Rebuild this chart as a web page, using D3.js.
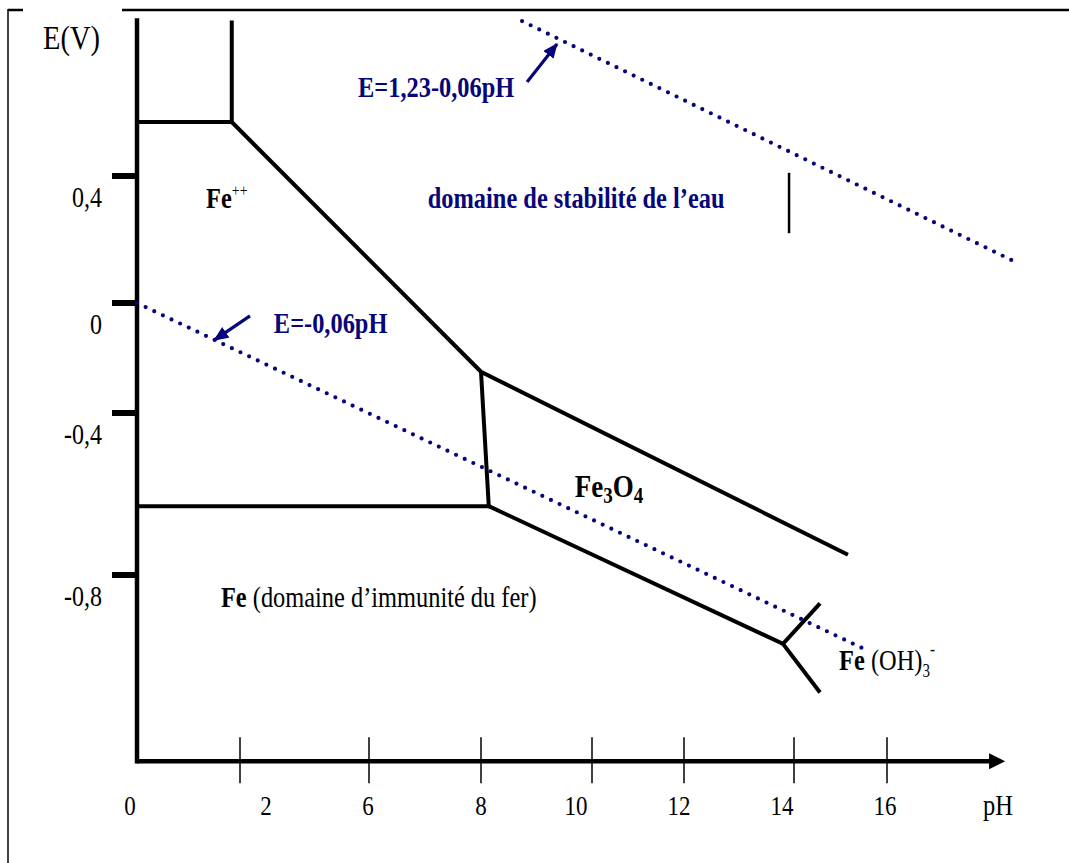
<!DOCTYPE html>
<html>
<head>
<meta charset="utf-8">
<script src="https://cdn.jsdelivr.net/npm/d3@7"></script>
<style>
  body { margin: 0; background: #fff; }
  text { font-family: "Liberation Serif", "Times New Roman", serif; }
</style>
</head>
<body>
<script>
// --- data (pH, E in volts) ---
const phTicks = [0, 2, 6, 8, 10, 12, 14, 16];
const phTickLabels = ["0", "2", "6", "8", "10", "12", "14", "16"];
const eTicks = [-0.8, -0.4, 0, 0.4];
const eTickLabels = ["-0,8", "-0,4", "0", "0,4"];

// boundaries of the Pourbaix diagram
const feIIcap = [[0, 0.57], [1.84, 0.57], [1.84, 0.89]];
const feIIslope = [[1.84, 0.57], [8.0, -0.25], [15.16, -0.75]];
const feIIbottom = [[8.0, -0.25], [8.14, -0.63], [0, -0.63]];
const fe3o4bottom = [[8.14, -0.63], [13.8, -0.97], [14.56, -0.87]];
const hydroxide = [[13.8, -0.97], [14.56, -1.09]];
const marker = [[13.91, 0.41], [13.91, 0.22]];

// water lines
const oxygenLine = [[8.74, 0.888], [18.75, 0.13]];
const hydrogenLine = [[0, 0], [15.46, -0.98]];

// --- layout ---
const width = 1069, height = 863;
const vStretch = 1.2;
const navy = "#06067a";

const x = d3.scaleLinear()
    .domain(phTicks)
    .range([137, 240, 369, 481, 592, 684, 794, 887]);
const y = d3.scaleLinear()
    .domain(eTicks)
    .range([575, 413, 303, 176]);

const eTop = 0.89, eBottom = -1.26, phEnd = 18.26, phTip = 18.54;
const labelNudge = [-7, 26, -1, 0, -16, -5, -12, -2];

const svg = d3.select("body").append("svg")
    .attr("width", width)
    .attr("height", height);

svg.append("rect").attr("width", width).attr("height", height).attr("fill", "#fff");

const defs = svg.append("defs");
defs.append("marker")
    .attr("id", "head")
    .attr("markerUnits", "userSpaceOnUse")
    .attr("viewBox", "0 0 14 12")
    .attr("refX", 13).attr("refY", 6)
    .attr("markerWidth", 15).attr("markerHeight", 13)
    .attr("orient", "auto")
    .append("path").attr("d", "M0,0L14,6L0,12Z").attr("fill", navy);

// frame
svg.append("line").attr("x1", 8).attr("y1", 9).attr("x2", 8).attr("y2", height)
    .attr("stroke", "#000").attr("stroke-width", 1.5);
svg.append("path").attr("d", "M8,10H23M122,10H" + width)
    .attr("stroke", "#000").attr("stroke-width", 2.5).attr("fill", "none");

const line = d3.line().x(d => x(d[0])).y(d => y(d[1]));

// axes
svg.append("line")
    .attr("x1", x(0)).attr("x2", x(0))
    .attr("y1", y(eTop)).attr("y2", y(eBottom))
    .attr("stroke", "#000").attr("stroke-width", 4.5).attr("stroke-linecap", "square");
svg.append("line")
    .attr("x1", x(0)).attr("x2", x(phEnd))
    .attr("y1", y(eBottom)).attr("y2", y(eBottom))
    .attr("stroke", "#000").attr("stroke-width", 4.5);
svg.append("path")
    .attr("d", `M${x(phEnd) - 3},${y(eBottom) - 8}L${x(phTip)},${y(eBottom)}L${x(phEnd) - 3},${y(eBottom) + 8}Z`)
    .attr("fill", "#000");

// y ticks
svg.append("g").selectAll("line").data(eTicks).join("line")
    .attr("x1", x(0) - 25).attr("x2", x(0))
    .attr("y1", d => y(d)).attr("y2", d => y(d))
    .attr("stroke", "#000").attr("stroke-width", 6);

svg.append("g").selectAll("text").data(eTicks).join("text")
    .attr("transform", d => `translate(102,${y(d) + 31}) scale(1,${vStretch})`)
    .attr("text-anchor", "end")
    .attr("font-size", 24)
    .text((d, i) => eTickLabels[i]);

// x ticks
svg.append("g").selectAll("line").data(phTicks.slice(1)).join("line")
    .attr("x1", d => x(d)).attr("x2", d => x(d))
    .attr("y1", y(eBottom) - 24).attr("y2", y(eBottom) + 22)
    .attr("stroke", "#000").attr("stroke-width", 1.5);

svg.append("g").selectAll("text").data(phTicks).join("text")
    .attr("transform", (d, i) => `translate(${x(d) + labelNudge[i]},815) scale(1,${vStretch})`)
    .attr("text-anchor", "middle")
    .attr("font-size", 23)
    .text((d, i) => phTickLabels[i]);

// axis titles
svg.append("text")
    .attr("transform", `translate(43,49) scale(1,1.15)`)
    .attr("font-size", 28.5)
    .text("E(V)");
svg.append("text")
    .attr("transform", `translate(983,815) scale(1,${vStretch})`)
    .attr("font-size", 24.5)
    .text("pH");

// water stability lines (dotted)
svg.append("g").selectAll("path").data([oxygenLine, hydrogenLine]).join("path")
    .attr("d", line)
    .attr("fill", "none")
    .attr("stroke", navy)
    .attr("stroke-width", 4.2)
    .attr("stroke-linecap", "round")
    .attr("stroke-dasharray", "0 9.55");

// boundaries
svg.append("g").selectAll("path")
    .data([feIIcap, feIIslope, feIIbottom, fe3o4bottom, hydroxide]).join("path")
    .attr("d", line)
    .attr("fill", "none")
    .attr("stroke", "#000")
    .attr("stroke-width", 4)
    .attr("stroke-linejoin", "miter");

svg.append("path").attr("d", line(marker))
    .attr("stroke", "#000").attr("stroke-width", 2.5);

// arrows pointing to the water lines
svg.append("g").selectAll("path")
    .data([[[8.83, 0.696], [9.37, 0.816]], [[2.31, -0.047], [1.50, -0.135]]]).join("path")
    .attr("d", line)
    .attr("stroke", navy)
    .attr("stroke-width", 3.2)
    .attr("marker-end", "url(#head)");

// labels
function rich(ph, e, parts, fill) {
    const t = svg.append("text")
        .attr("transform", `translate(${x(ph)},${y(e)}) scale(1,${vStretch})`)
        .attr("fill", fill || "#000")
        .attr("font-size", 24.4);
    parts.forEach(p => {
        t.append("tspan")
            .attr("font-size", p.size || null)
            .attr("font-weight", p.bold ? "bold" : null)
            .attr("dy", p.dy || null)
            .text(p.t);
    });
}

rich(1.34, 0.30, [{ t: "Fe", bold: true }, { t: "++", size: 14, dy: -10 }]);
rich(7.05, 0.30, [{ t: "domaine de stabilité de l’eau", bold: true }], navy);
rich(5.66, 0.649, [{ t: "E=1,23-0,06pH", bold: true }], navy);
rich(3.05, -0.109, [{ t: "E=-0,06pH", bold: true }], navy);
rich(9.69, -0.607, [
    { t: "Fe", bold: true, size: 27 }, { t: "3", size: 19, dy: 5, bold: true },
    { t: "O", bold: true, size: 27, dy: -5 }, { t: "4", size: 19, dy: 5, bold: true }
]);
rich(1.63, -0.879, [{ t: "Fe", bold: true }, { t: " (domaine d’immunité du fer)" }]);
rich(14.97, -1.035, [
    { t: "Fe", bold: true }, { t: " (OH)" },
    { t: "3", size: 15, dy: 6 }, { t: "-", size: 15, dy: -19 }
]);
</script>
</body>
</html>
